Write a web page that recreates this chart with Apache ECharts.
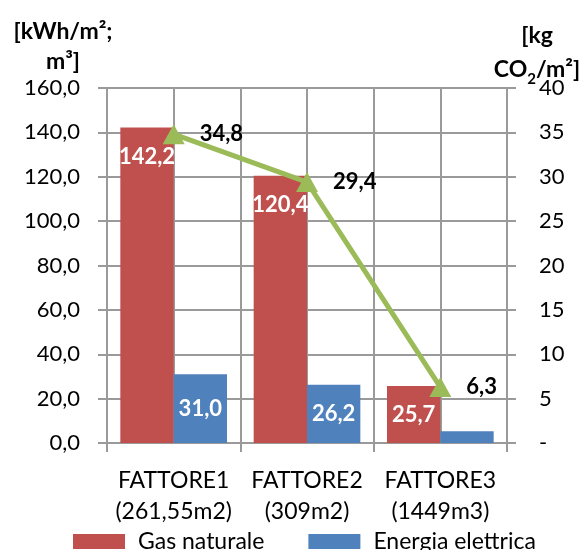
<!DOCTYPE html>
<html>
<head>
<meta charset="utf-8">
<script src="https://cdn.jsdelivr.net/npm/echarts@6/dist/echarts.min.js"></script>
<style>
  html, body { margin: 0; padding: 0; background: #fff; }
  #chart { width: 585px; height: 550px; }
</style>
</head>
<body>
<div id="chart"></div>
<script>
// Energy use per building and resulting CO2 emissions
var categories = ['FATTORE1\n(261,55m2)', 'FATTORE2\n(309m2)', 'FATTORE3\n(1449m3)'];
var gasNaturale = [142.2, 120.4, 25.7];
var energiaElettrica = [31.0, 26.2, 5.3];
var co2 = [34.8, 29.4, 6.3];
var leftTicks = { min: 0, max: 160, interval: 20 };
var rightTicks = { min: 0, max: 40, interval: 5 };

var FONT = 'Lato, "Open Sans", sans-serif';
var GRID_COLOR = '#9a9a9a';

function comma(v, digits) {
  return v.toFixed(digits).replace('.', ',');
}

// label placement for the gas bars: tall bars keep the value near the top
var gasLabelPos = ['insideTop', 'insideTop', 'inside'];
var elecLabelShow = [true, true, false];

var chart = echarts.init(document.getElementById('chart'), null, { renderer: 'canvas' });

var barLabel = {
  show: true,
  color: '#fff',
  fontFamily: FONT,
  fontWeight: 'bold',
  fontSize: 22,
  formatter: function (p) { return comma(p.value, 1); }
};

chart.setOption({
  animation: false,
  backgroundColor: '#fff',
  textStyle: { fontFamily: FONT },
  grid: { left: 107, right: 78, top: 88, bottom: 107 },
  legend: {
    data: ['Gas naturale', 'Energia elettrica'],
    left: 73,
    top: 530,
    padding: 0,
    icon: 'rect',
    itemWidth: 52,
    itemHeight: 15,
    itemGap: 44,
    textStyle: { fontFamily: FONT, fontSize: 23, color: '#000', padding: [0, 0, 0, 8] }
  },
  graphic: [
    {
      type: 'text',
      style: {
        text: '[kWh/m²;\nm³]', x: 63, y: 17, align: 'center',
        font: 'bold 23px ' + FONT, lineHeight: 30, fill: '#000'
      }
    },
    {
      type: 'text',
      style: {
        text: '{b|[kg}\n{b|CO}{s|2}{b|/m²]}', x: 537, y: 19, align: 'center',
        fill: '#000',
        rich: {
          b: { fontFamily: FONT, fontWeight: 'bold', fontSize: 23, lineHeight: 34, color: '#000' },
          s: { fontFamily: FONT, fontWeight: 'bold', fontSize: 15, lineHeight: 34, color: '#000', verticalAlign: 'bottom', padding: [10, 0, 0, 0] }
        }
      }
    }
  ],
  xAxis: [
    {
      type: 'category',
      data: categories,
      axisLine: { lineStyle: { color: GRID_COLOR, width: 2 } },
      axisTick: { show: true, length: 9, lineStyle: { color: GRID_COLOR, width: 2 } },
      axisLabel: { interval: 0, color: '#000', fontSize: 23, fontFamily: FONT, lineHeight: 31, margin: 22 },
      splitLine: { show: false }
    },
    {
      // half-category grid: lines at group edges and between paired bars
      type: 'value',
      position: 'top',
      min: 0, max: 6, interval: 1,
      axisLine: { show: false },
      axisTick: { show: false },
      axisLabel: { show: false },
      splitLine: { show: true, lineStyle: { color: GRID_COLOR, width: 2 } }
    }
  ],
  yAxis: [
    {
      type: 'value',
      min: leftTicks.min, max: leftTicks.max, interval: leftTicks.interval,
      axisLine: { show: true, lineStyle: { color: GRID_COLOR, width: 2 } },
      axisTick: { show: true, length: 9, lineStyle: { color: GRID_COLOR, width: 2 } },
      axisLabel: {
        color: '#000', fontSize: 22, fontFamily: FONT, margin: 27,
        formatter: function (v) { return comma(v, 1); }
      },
      splitLine: { show: true, lineStyle: { color: GRID_COLOR, width: 2 } }
    },
    {
      type: 'value',
      position: 'right',
      min: rightTicks.min, max: rightTicks.max, interval: rightTicks.interval,
      axisLine: { show: true, lineStyle: { color: GRID_COLOR, width: 2 } },
      axisTick: { show: true, length: 9, lineStyle: { color: GRID_COLOR, width: 2 } },
      axisLabel: {
        color: '#000', fontSize: 22, fontFamily: FONT, margin: 32, align: 'left',
        formatter: function (v) { return v === 0 ? '-' : String(v); }
      },
      splitLine: { show: false }
    }
  ],
  series: [
    {
      name: 'Gas naturale',
      type: 'bar',
      xAxisIndex: 0, yAxisIndex: 0,
      barGap: 0,
      barCategoryGap: '20%',
      itemStyle: { color: '#C0504D' },
      data: gasNaturale.map(function (v, i) {
        return { value: v, label: { position: gasLabelPos[i], distance: 18 } };
      }),
      label: barLabel,
      z: 3
    },
    {
      name: 'Energia elettrica',
      type: 'bar',
      xAxisIndex: 0, yAxisIndex: 0,
      barGap: 0,
      barCategoryGap: '20%',
      itemStyle: { color: '#4F81BD' },
      data: energiaElettrica.map(function (v, i) {
        return { value: v, label: { show: elecLabelShow[i], position: 'inside' } };
      }),
      label: barLabel,
      z: 3
    },
    {
      name: 'CO2',
      type: 'line',
      xAxisIndex: 0, yAxisIndex: 1,
      data: co2,
      lineStyle: { color: '#9BBB59', width: 5 },
      itemStyle: { color: '#9BBB59' },
      symbol: 'triangle',
      symbolSize: [22, 20],
      label: {
        show: true,
        position: 'right',
        distance: 15,
        color: '#000',
        fontFamily: FONT,
        fontWeight: 'bold',
        fontSize: 22,
        formatter: function (p) { return comma(p.value, 1); }
      },
      z: 5
    }
  ]
});
</script>
</body>
</html>
